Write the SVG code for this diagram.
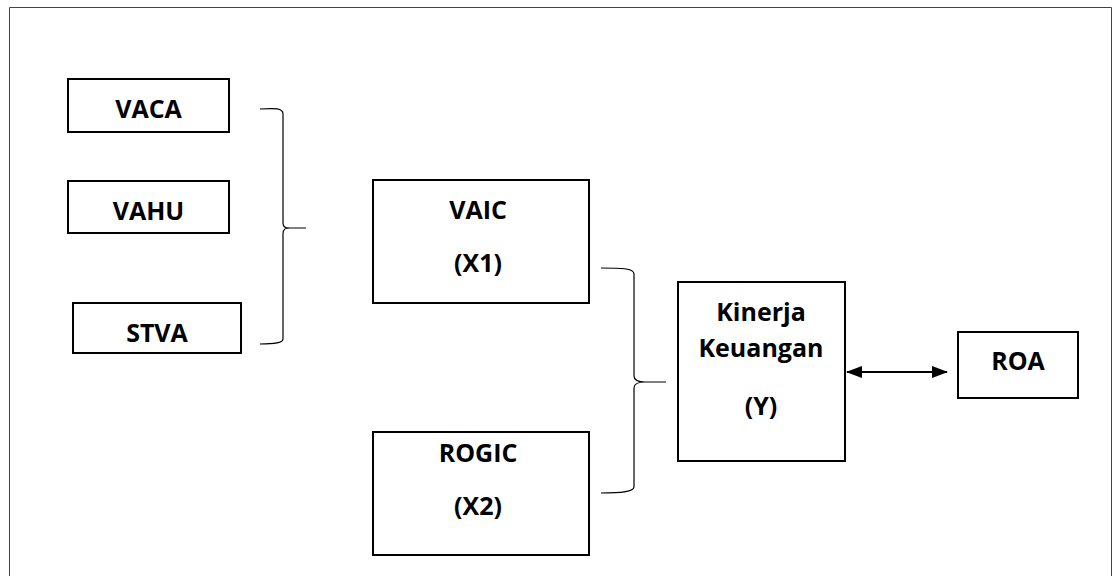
<svg xmlns="http://www.w3.org/2000/svg" width="1120" height="576" viewBox="0 0 1120 576">
<style>
.box{fill:#fff;stroke:#000;stroke-width:2}
.t{font-family:"Open Sans","Liberation Sans",sans-serif;font-weight:bold;font-size:25px;fill:#000;text-anchor:middle}
.br{fill:none;stroke:#000;stroke-width:1.2}
</style>
<defs>
<marker id="ah" viewBox="0 0 16 12" refX="15" refY="6" markerWidth="16" markerHeight="12" markerUnits="userSpaceOnUse" orient="auto-start-reverse">
<path d="M0,0 L16,6 L0,12 z" fill="#000"/>
</marker>
</defs>
<rect width="1120" height="576" fill="#fff"/>
<path d="M9.5,580 L9.5,7.5 L1111.5,7.5 L1111.5,580" fill="none" stroke="#444" stroke-width="1"/>
<g id="vaca"><rect class="box" x="68" y="79" width="161" height="53"/><text class="t" x="148.5" y="118">VACA</text></g>
<g id="vahu"><rect class="box" x="68" y="181" width="161" height="52"/><text class="t" x="148.5" y="220">VAHU</text></g>
<g id="stva"><rect class="box" x="73" y="303" width="168" height="50"/><text class="t" x="157" y="342">STVA</text></g>
<g id="vaic"><rect class="box" x="373" y="180" width="216" height="123"/><text class="t" x="478" y="219">VAIC</text><text class="t" x="478" y="272">(X1)</text></g>
<g id="rogic"><rect class="box" x="373" y="432" width="216" height="123"/><text class="t" x="478" y="462">ROGIC</text><text class="t" x="478" y="515">(X2)</text></g>
<g id="kinerja"><rect class="box" x="678" y="282" width="167" height="179"/><text class="t" x="761" y="321">Kinerja</text><text class="t" x="761" y="357">Keuangan</text><text class="t" x="761" y="415">(Y)</text></g>
<g id="roa"><rect class="box" x="958" y="332" width="120" height="66"/><text class="t" x="1018" y="370">ROA</text></g>
<g id="connectors">
<path class="br" d="M260,109 C275,108 283,108 283,114 L283,223 C283,227 285,228 290,228 L306,228 M290,228 C285,228 283,229 283,234 L283,339 C283,343 275,344 260,344"/>
<path class="br" d="M601,268 C620,268 634,268 634,274 L634,376 C634,380 637,382 645,382 L666,382 M645,382 C637,382 634,384 634,388 L634,487 C634,492 620,493 601,493"/>
<line x1="847" y1="372" x2="947" y2="372" stroke="#000" stroke-width="2" marker-start="url(#ah)" marker-end="url(#ah)"/>
</g>
</svg>
